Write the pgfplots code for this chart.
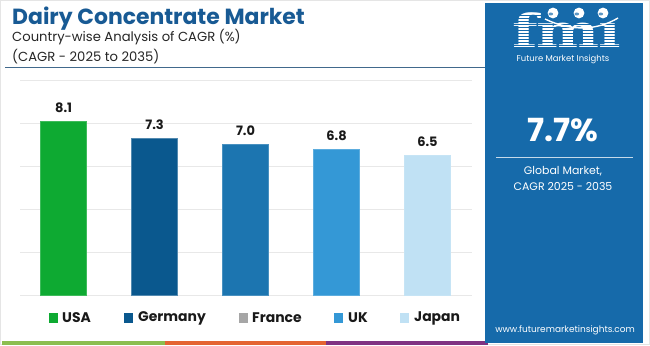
\documentclass[border=0pt]{standalone}
\usepackage{fontspec}
\setmainfont{Poppins}
\newfontfamily\logofont{DejaVu Serif}
\usepackage{pgfplots}
\pgfplotsset{compat=1.18}
\definecolor{titleblue}{RGB}{24,90,148}
\definecolor{panelblue}{RGB}{22,106,170}
\definecolor{cUSA}{RGB}{14,170,50}
\definecolor{cGER}{RGB}{10,88,142}
\definecolor{cFRA}{RGB}{28,117,176}
\definecolor{cUK}{RGB}{52,152,214}
\definecolor{cJPN}{RGB}{192,225,244}
\definecolor{cgray}{RGB}{166,166,166}
\definecolor{sgreen}{RGB}{140,190,80}
\definecolor{sorange}{RGB}{228,100,50}
\definecolor{spurple}{RGB}{128,50,130}
\begin{document}
\begin{tikzpicture}[x=1bp,y=1bp]
\path[use as bounding box] (0,0) rectangle (650,345);
\fill[white] (0,0) rectangle (650,345);
\draw[gray!20, line width=0.6] (0.3,0.3) rectangle (649.7,344.7);
\coordinate (AX) at (20,50);
% titles
\node[anchor=base west, inner sep=0, text=titleblue, font=\fontsize{22}{22}\selectfont\bfseries] at (12,321) {Dairy Concentrate Market};
\node[anchor=base west, inner sep=0, text=black!85, font=\fontsize{13.2}{14}\selectfont] at (12,304) {Country-wise Analysis of CAGR (\%)};
\node[anchor=base west, inner sep=0, text=black!85, font=\fontsize{13.2}{14}\selectfont] at (12,284) {(CAGR - 2025 to 2035)};
\draw[titleblue!60!gray, line width=0.8] (5,278) -- (486,278);
% chart
\begin{axis}[at={(AX)}, anchor=south west, scale only axis,
  width=452bp, height=215bp,
  xmin=-0.48, xmax=4.49, ymin=0, ymax=10,
  axis line style={draw=none}, tick style={draw=none},
  xtick=\empty, ytick={0,2,4,6,8,10}, yticklabels={},
  ymajorgrids, grid style={color=gray!18, line width=0.6},
  ybar, bar width=46bp,
  /pgf/number format/assume math mode=true,
  nodes near coords={\pgfmathprintnumber[fixed,fixed zerofill,precision=1]{\pgfplotspointmeta}},
  every node near coord/.append style={font=\fontsize{13}{13}\selectfont\bfseries, text=black!90, yshift=5bp},
  clip=false]
\addplot[fill=cUSA, draw=cUSA!80!white, line width=0.4, bar shift=0pt] coordinates {(0,8.1)};
\addplot[fill=cGER, draw=cGER!70!white, line width=0.4, bar shift=0pt] coordinates {(1,7.3)};
\addplot[fill=cFRA, draw=cFRA!80!white, line width=0.4, bar shift=0pt] coordinates {(2,7.0)};
\addplot[fill=cUK, draw=cUK!80!white, line width=0.4, bar shift=0pt] coordinates {(3,6.8)};
\addplot[fill=cJPN, draw=cJPN!90!white, line width=0.4, bar shift=0pt] coordinates {(4,6.5)};
\end{axis}
% legend
\begin{scope}[every node/.style={anchor=west, inner sep=0, font=\fontsize{14}{14}\selectfont\bfseries, text=black!90}]
\fill[cUSA] (49,22.5) rectangle (58,32); \node at (62,27) {USA};
\fill[cGER] (124,22.5) rectangle (133,32); \node at (138,27) {Germany};
\fill[cgray] (239,22.5) rectangle (248,32); \node at (252,27) {France};
\fill[cUK] (334,22.5) rectangle (343,32); \node at (348,27) {UK};
\fill[cJPN] (400,22.5) rectangle (409,32); \node at (414,27) {Japan};
\end{scope}
% bottom strip
\fill[sgreen] (2,0) rectangle (165,4);
\fill[sorange] (165,0) rectangle (326,4);
\fill[spurple] (326,0) rectangle (488,4);
% right panel
\fill[panelblue] (485,2) rectangle (643,342);
% logo
\node[anchor=base west, inner sep=0, text=white] at (512,298) {\raisebox{0pt}[\height][0pt]{\scalebox{1.3}[1]{\logofont\bfseries\fontsize{46}{46}\selectfont f\kern-1bp m\kern-1bp ı}}};
\foreach \yy in {299.5,302.5,...,332} {\draw[panelblue, line width=0.8] (505,\yy) -- (625,\yy);}
\draw[white, line width=1.4] (545,326) .. controls (572,313) and (598,315) .. (618,327);
\foreach \xx in {553,579,603} {\fill[white] (\xx,332) circle (5.4); \fill[panelblue!70] (\xx-2.2,331) ellipse (2.3 and 1.5);}
\node[text=white, inner sep=0, font=\fontsize{8.5}{9}\selectfont] at (563,286) {Future Market Insights};
% KPI
\node[text=white, font=\fontsize{32}{32}\selectfont\bfseries] at (563,215) {7.7\%};
\draw[white!75!panelblue, line width=0.9] (496,188) -- (633,188);
\node[text=white, font=\fontsize{11}{11}\selectfont] at (563,174) {Global Market,};
\node[text=white, font=\fontsize{11}{11}\selectfont] at (563,159) {CAGR 2025 - 2035};
\node[text=white, font=\fontsize{9}{9}\selectfont] at (565,15) {www.futuremarketinsights.com};
\end{tikzpicture}
\end{document}
